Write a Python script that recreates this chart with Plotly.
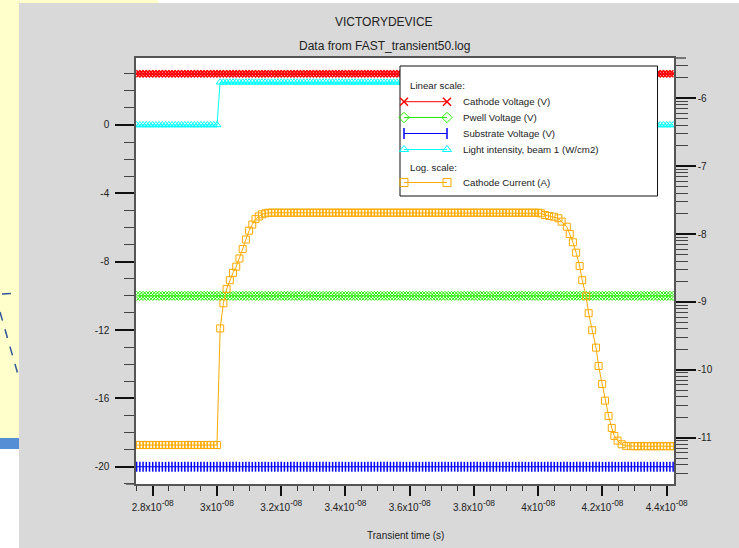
import plotly.graph_objects as go

W, H = 739, 548
PL, PR, PT, PB = 136, 674, 58, 484  # plot area in px


def px(x):
    return (x - PL) / (PR - PL)


def py(y):
    return (PB - y) / (PB - PT)


FONT = "Liberation Sans, Arial, sans-serif"
TXT = "#222222"

# ---------------- data (time in ns) ----------------
t_grid_ns = [round(27.5 + 0.1 * i, 1) for i in range(168)]  # 27.5 .. 44.2
cathode_voltage = [3.0] * 168
pwell_voltage = [-10.0] * 168
substrate_voltage = [-20.0] * 168
light_intensity = [0.0] * 26 + [2.5] * 100 + [0.0] * 42

# Cathode current, read as log10(A) from the right (log) axis
cur_before_t = [round(27.5 + 0.1 * i, 1) for i in range(26)]      # 27.5 .. 30.0
cur_before_log = [-11.108] * 26
cur_rise_t = [30.1, 30.2, 30.3, 30.4, 30.5, 30.6, 30.7, 30.8, 30.9, 31.0,
              31.1, 31.2, 31.3, 31.4, 31.5]
cur_rise_log = [-9.39, -9.02, -8.81, -8.68, -8.57, -8.48, -8.36, -8.22, -8.08,
                -7.95, -7.86, -7.78, -7.74, -7.71, -7.695]
cur_high_t = [round(31.6 + 0.1 * i, 1) for i in range(85)]        # 31.6 .. 40.0
cur_high_log = [-7.685] * 85
cur_fall_t = [40.08, 40.21, 40.34, 40.49, 40.63, 40.73, 40.89, 40.98, 41.08,
              41.18, 41.29, 41.37, 41.49, 41.57, 41.68, 41.80, 41.88, 41.99,
              42.08, 42.19, 42.29, 42.37, 42.47, 42.60, 42.74, 42.88]
cur_fall_log = [-7.694, -7.719, -7.733, -7.744, -7.767, -7.817, -7.891, -7.999,
                -8.121, -8.274, -8.470, -8.680, -8.916, -9.166, -9.417, -9.673,
                -9.943, -10.208, -10.454, -10.679, -10.856, -10.974, -11.043,
                -11.096, -11.121, -11.125]
cur_after_t = [round(43.0 + 0.1 * i, 1) for i in range(13)]       # 43.0 .. 44.2
cur_after_log = [-11.125] * 13

x_tick_ns = [28, 30, 32, 34, 36, 38, 40, 42, 44]
x_tick_mant = ["2.8", "3", "3.2", "3.4", "3.6", "3.8", "4", "4.2", "4.4"]
y_left_ticks = [-20, -16, -12, -8, -4, 0]
y_right_exps = [-11, -10, -9, -8, -7, -6]

series_names = ["Cathode Voltage (V)", "Pwell Voltage (V)", "Substrate Voltage (V)",
                "Light intensity, beam 1 (W/cm2)", "Cathode Current (A)"]

# ---------------- derived ----------------
t_s = [t * 1e-9 for t in t_grid_ns]
cur_t = cur_before_t + cur_rise_t + cur_high_t + cur_fall_t + cur_after_t
cur_log = cur_before_log + cur_rise_log + cur_high_log + cur_fall_log + cur_after_log
cur_t_s = [t * 1e-9 for t in cur_t]
cur_A = [10 ** v for v in cur_log]

RED, GREEN, BLUE, CYAN, ORANGE = "#FF0000", "#22EE00", "#0000FF", "#00FFFF", "#FFAA00"
styles = [
    dict(color=RED, symbol="x-thin", lw=1.5),
    dict(color=GREEN, symbol="diamond-open", lw=1),
    dict(color=BLUE, symbol="line-ns", lw=1.5),
    dict(color=CYAN, symbol="triangle-up-open", lw=1),
    dict(color=ORANGE, symbol="square-open", lw=1),
]


def mk(st, size):
    return dict(symbol=st["symbol"], size=size, color=st["color"],
                line=dict(color=st["color"], width=st["lw"]))


fig = go.Figure()
for name, yv, st in zip(series_names[:4],
                        [cathode_voltage, pwell_voltage, substrate_voltage, light_intensity],
                        styles[:4]):
    fig.add_trace(go.Scatter(x=t_s, y=yv, name=name, mode="lines+markers",
                             line=dict(color=st["color"], width=1),
                             marker=mk(st, 7), showlegend=False, hoverinfo="skip"))

fig.add_trace(go.Scatter(x=cur_t_s, y=cur_A, name=series_names[4], mode="lines+markers",
                         yaxis="y2", line=dict(color=ORANGE, width=1),
                         marker=mk(styles[4], 7), showlegend=False, hoverinfo="skip"))

# ---------------- custom legend (overlay axes in px units of plot area) ----------------
LX0, LX1, LY0, LY1 = 400, 657.5, 66, 196
fig.add_trace(go.Scatter(
    x=[LX0 - PL, LX1 - PL, LX1 - PL, LX0 - PL, LX0 - PL],
    y=[PB - LY1, PB - LY1, PB - LY0, PB - LY0, PB - LY1],
    mode="lines", fill="toself", fillcolor="white",
    line=dict(color="#111111", width=1), xaxis="x3", yaxis="y3",
    showlegend=False, hoverinfo="skip"))

rows_y = [101.7, 117.5, 133.5, 149.5, 182.5]
for name, st, ry in zip(series_names, styles, rows_y):
    fig.add_trace(go.Scatter(x=[404 - PL, 447 - PL], y=[PB - ry, PB - ry],
                             mode="lines+markers", xaxis="x3", yaxis="y3",
                             line=dict(color=st["color"], width=1),
                             marker=mk(st, 8), showlegend=False, hoverinfo="skip"))

annotations = []
for name, ry in zip(series_names, rows_y):
    annotations.append(dict(x=px(461), y=py(ry), xref="paper", yref="paper",
                            text=name, showarrow=False, xanchor="left", yanchor="middle",
                            font=dict(family=FONT, size=9.7, color=TXT)))
for txt, ry in [("Linear scale:", 85), ("Log. scale:", 167.5)]:
    annotations.append(dict(x=px(408), y=py(ry), xref="paper", yref="paper",
                            text=txt, showarrow=False, xanchor="left", yanchor="middle",
                            font=dict(family=FONT, size=9.7, color=TXT)))

# titles
annotations.append(dict(x=px(384), y=py(22), xref="paper", yref="paper", text="VICTORYDEVICE",
                        showarrow=False, xanchor="center", yanchor="middle",
                        font=dict(family=FONT, size=12, color=TXT)))
annotations.append(dict(x=px(384), y=py(46), xref="paper", yref="paper",
                        text="Data from FAST_transient50.log", showarrow=False,
                        xanchor="center", yanchor="middle",
                        font=dict(family=FONT, size=12, color=TXT)))
annotations.append(dict(x=px(405), y=py(535.5), xref="paper", yref="paper",
                        text="Transient time (s)", showarrow=False,
                        xanchor="center", yanchor="middle",
                        font=dict(family=FONT, size=10, color=TXT)))

# ---------------- background shapes (slide behind the panel) ----------------
shapes = []


def rect(x0, y0, x1, y1, color):
    shapes.append(dict(type="rect", xref="paper", yref="paper",
                       x0=px(x0), x1=px(x1), y0=py(y1), y1=py(y0),
                       fillcolor=color, line=dict(width=0), layer="below"))


YEL = "#FFFFCC"
rect(0, 0, 19, 438, YEL)
rect(0, 438, 19, 449, "#558ED5")
rect(0, 449, 19, 548, "#FFFFFF")
rect(19, 0, 158, 3, YEL)
rect(158, 0, 739, 3, "#FFFFFF")
for (xa, ya, xb, yb) in [(2, 294, 19, 293), (0, 312, 19, 378)]:
    shapes.append(dict(type="line", xref="paper", yref="paper",
                       x0=px(xa), y0=py(ya), x1=px(xb), y1=py(yb),
                       line=dict(color="#2F5597", width=1.5, dash="dash"), layer="below"))
# axis-line extensions
shapes.append(dict(type="line", xref="paper", yref="paper", x0=px(126), x1=0, y0=0, y1=0,
                   line=dict(color="#555555", width=1.5)))
shapes.append(dict(type="line", xref="paper", yref="paper", x0=1, x1=px(686), y0=1, y1=1,
                   line=dict(color="#555555", width=1.5)))

# ---------------- axes ----------------
minor_log = [k * 10.0 ** n for n in range(-12, -5) for k in range(2, 10)]
tickfont = dict(family=FONT, size=10, color=TXT)
SUP = '<span style="font-size:12px"><sup>-08</sup></span>'

fig.update_layout(
    width=W, height=H,
    margin=dict(l=PL, r=W - PR, t=PT, b=H - PB, pad=0),
    paper_bgcolor="#D9D9D9", plot_bgcolor="#FFFFFF",
    showlegend=False,
    xaxis=dict(range=[27.48e-9, 44.227e-9], tickmode="array",
               tickvals=[v * 1e-9 for v in x_tick_ns],
               ticktext=[m + "x10" + SUP for m in x_tick_mant],
               ticks="outside", ticklen=10, tickwidth=2, tickcolor="#111111",
               ticklabelstandoff=3,
               minor=dict(ticks="outside", ticklen=5, tickwidth=1, tickcolor="#333333",
                          tickmode="linear", tick0=28e-9, dtick=0.5e-9, showgrid=False),
               showgrid=False, zeroline=False, showline=True, mirror=True,
               linecolor="#555555", linewidth=1.5, tickfont=tickfont, automargin=False),
    yaxis=dict(range=[-21.01, 3.92], tickmode="array", tickvals=y_left_ticks,
               ticktext=[str(v) for v in y_left_ticks],
               ticks="outside", ticklen=19, tickwidth=2, tickcolor="#111111",
               ticklabelstandoff=4,
               minor=dict(ticks="outside", ticklen=10, tickwidth=1, tickcolor="#444444",
                          tickmode="linear", tick0=0, dtick=1, showgrid=False),
               showgrid=False, zeroline=False, showline=True,
               linecolor="#555555", linewidth=1.5, tickfont=tickfont, automargin=False),
    yaxis2=dict(type="log", overlaying="y", side="right", anchor="x",
                range=[-11.682, -5.406], tickmode="array",
                tickvals=[10.0 ** e for e in y_right_exps],
                ticktext=[str(e) for e in y_right_exps],
                ticks="outside", ticklen=20, tickwidth=2, tickcolor="#111111",
                minor=dict(ticks="outside", ticklen=12, tickwidth=1, tickcolor="#444444",
                           tickmode="array", tickvals=minor_log, showgrid=False),
                showgrid=False, zeroline=False, showline=True,
                linecolor="#555555", linewidth=1.5, tickfont=tickfont, automargin=False),
    xaxis3=dict(overlaying="x", anchor="y3", range=[0, PR - PL], visible=False),
    yaxis3=dict(overlaying="y", anchor="x3", range=[0, PB - PT], visible=False),
    annotations=annotations,
    shapes=shapes,
)

fig.write_html("out.html", config={"displayModeBar": False},
               post_script="document.body.style.margin='0';document.body.style.overflow='hidden';")
